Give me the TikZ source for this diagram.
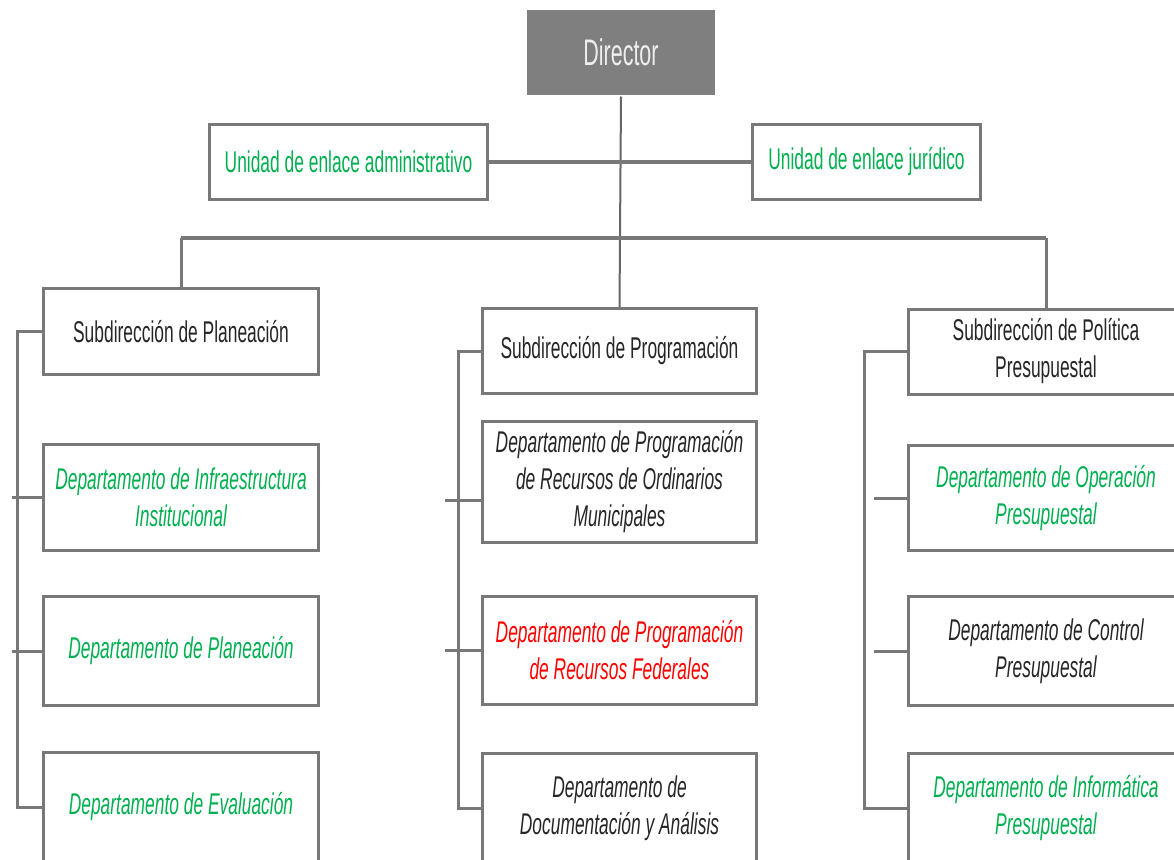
\documentclass[tikz,border=0pt]{standalone}
\usepackage{fontspec}
\setmainfont{Liberation Sans}[FakeStretch=0.58]
\definecolor{lnc}{RGB}{120,120,120}
\definecolor{grn}{RGB}{0,176,80}
\definecolor{txt}{RGB}{38,38,38}
\definecolor{dirfill}{RGB}{127,127,127}
\definecolor{dirtxt}{RGB}{238,238,238}
\definecolor{rd}{RGB}{255,0,0}
\tikzset{
  box/.style={draw=lnc, line width=3pt, fill=white, inner sep=0pt, align=center,
    font=\fontsize{30}{37}\selectfont, text=txt},
  dept/.style={box, font=\fontsize{30}{37}\selectfont\itshape},
  conn/.style={draw=lnc, line width=3pt},
  thinconn/.style={draw=lnc!85!black, line width=2pt}
}
\begin{document}
\begin{tikzpicture}[x=1pt,y=-1pt]
\useasboundingbox (0,0) rectangle (1174,859);
\clip (0,0) rectangle (1174,859);
\fill[white] (0,0) rectangle (1174,859);

% top
\node[box, draw=none, fill=dirfill, text=dirtxt, minimum width=188pt, minimum height=85pt,
  font=\fontsize{37}{40}\selectfont] (dir) at (621,52.5) {Director};
\node[box, text=grn, minimum width=278pt, minimum height=75pt] (ua) at (348.5,162) {Unidad de enlace administrativo};
\node[box, text=grn, minimum width=228pt, minimum height=75pt] (uj) at (866.5,162) {Unidad de enlace jurídico};

% left column
\node[box, minimum width=275pt, minimum height=86pt] (sp) at (181,331.5) {Subdirección de Planeación};
\node[dept, text=grn, minimum width=275pt, minimum height=106pt] (d11) at (181,497.5) {Departamento de Infraestructura\\Institucional};
\node[dept, text=grn, minimum width=275pt, minimum height=109pt] (d12) at (181,651) {Departamento de Planeación};
\node[dept, text=grn, minimum width=275pt, minimum height=109pt] (d13) at (181,807) {Departamento de Evaluación};

% middle column
\node[box, minimum width=274pt, minimum height=85pt] (spr) at (619.5,351) {Subdirección de Programación};
\node[dept, minimum width=274pt, minimum height=121pt] (d21) at (619.5,482) {Departamento de Programación\\de Recursos de Ordinarios\\Municipales};
\node[dept, text=rd, minimum width=274pt, minimum height=108pt] (d22) at (619.5,650.5) {Departamento de Programación\\de Recursos Federales};
\node[dept, minimum width=274pt, minimum height=109pt] (d23) at (619.5,808) {Departamento de\\Documentación y Análisis};

% right column
\node[box, minimum width=275pt, minimum height=85pt] (spp) at (1046,351.5) {Subdirección de Política\\Presupuestal};
\node[dept, text=grn, minimum width=275pt, minimum height=105pt] (d31) at (1046,498) {Departamento de Operación\\Presupuestal};
\node[dept, minimum width=275pt, minimum height=109pt] (d32) at (1046,651) {Departamento de Control\\Presupuestal};
\node[dept, text=grn, minimum width=275pt, minimum height=109pt] (d33) at (1046,808) {Departamento de Informática\\Presupuestal};

% connectors
\draw[thinconn] (dir.south) -- (spr.north);
\draw[conn, line width=4pt] (ua.east) -- (uj.west);
\coordinate (busL) at (181,238);
\coordinate (busR) at (1046,238);
\draw[conn, line width=4pt] (busL) -- (busR);
\draw[conn] (busL) -- (sp.north);
\draw[conn] (busR) -- (spp.north);

\draw[conn] (sp.west) -- ++(-25,0) |- (d13.west);
\draw[conn] (d11.west) -- ++(-30,0);
\draw[conn] (d12.west) -- ++(-30,0);

\draw[conn] (spr.west) -- ++(-23,0) |- (d23.west);
\draw[conn] ([yshift=-18pt]d21.west) -- ++(-36,0);
\draw[conn] (d22.west) -- ++(-36,0);

\draw[conn] (spp.west) -- ++(-43,0) |- (d33.west);
\draw[conn] (d31.west) -- ++(-33,0);
\draw[conn] (d32.west) -- ++(-33,0);
\end{tikzpicture}
\end{document}
